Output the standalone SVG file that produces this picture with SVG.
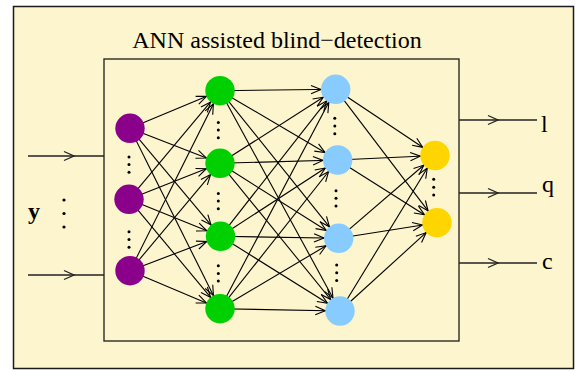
<svg xmlns="http://www.w3.org/2000/svg" width="578" height="371" viewBox="0 0 578 371">
  <style>
    .frame { fill: #FDF5CD; stroke: #1a1a1a; stroke-width: 1.5; }
    .box { fill: none; stroke: #2b2b22; stroke-width: 1.4; }
    .edge { stroke: #000; stroke-width: 1.1; fill: none; marker-end: url(#head); }
    .io { stroke: #222; stroke-width: 1.3; fill: none; marker-mid: url(#mid); }
    .txt { font-family: "Liberation Serif", "Times New Roman", serif; font-size: 24px; fill: #000; }
    .in { fill: #8B008B; }
    .h1 { fill: #00CF00; }
    .h2 { fill: #88CCFF; }
    .out { fill: #FFD500; }
    .dot { fill: #000; }
  </style>
  <defs>
    <!-- open arrowhead whose tip sits on the rim of the target circle (r = 14.7) -->
    <marker id="head" markerUnits="userSpaceOnUse" viewBox="-12 -6 30 12" refX="14.7" refY="0" markerWidth="30" markerHeight="12" orient="auto" overflow="visible">
      <path d="M-10,-4.2 L0,0 L-10,4.2" fill="none" stroke="#000" stroke-width="1.1"/>
    </marker>
    <!-- open arrowhead placed part way along a signal line -->
    <marker id="mid" markerUnits="userSpaceOnUse" viewBox="-12 -6 14 12" refX="0" refY="0" markerWidth="14" markerHeight="12" orient="auto" overflow="visible">
      <path d="M-10,-4.5 L0,0 L-10,4.5" fill="none" stroke="#222" stroke-width="1.3"/>
    </marker>
  </defs>

  <!-- outer panel -->
  <rect class="frame" x="13.5" y="6.5" width="560" height="362"/>

  <!-- estimator block -->
  <g id="block">
    <rect class="box" x="104" y="59" width="355" height="282"/>
    <text class="txt" x="277" y="48" text-anchor="middle">ANN assisted blind−detection</text>
  </g>

  <!-- input / output signals -->
  <g id="signals">
    <path class="io" d="M28,156 L74,156 L104,156"/>
    <path class="io" d="M28,275 L74,275 L104,275"/>
    <path class="io" d="M459,120 L498,120 L537,120"/>
    <path class="io" d="M459,193 L498,193 L537,193"/>
    <path class="io" d="M459,263 L498,263 L537,263"/>
    <text class="txt" x="28" y="219" font-weight="bold">y</text>
    <circle class="dot" cx="64" cy="200" r="1.6"/>
    <circle class="dot" cx="64" cy="213.5" r="1.6"/>
    <circle class="dot" cx="64" cy="227" r="1.6"/>
    <text class="txt" x="541" y="132">l</text>
    <text class="txt" x="542" y="192">q</text>
    <text class="txt" x="542" y="269">c</text>
  </g>

  <!-- weighted connections between layers -->
  <g id="connectors">
    <!-- input layer to first hidden layer -->
    <line class="edge" x1="130" y1="128.3" x2="220" y2="90.7"/>
    <line class="edge" x1="130" y1="128.3" x2="220" y2="163.3"/>
    <line class="edge" x1="130" y1="128.3" x2="220.5" y2="236.3"/>
    <line class="edge" x1="130" y1="128.3" x2="220" y2="308.7"/>
    <line class="edge" x1="129" y1="199.3" x2="220" y2="90.7"/>
    <line class="edge" x1="129" y1="199.3" x2="220" y2="163.3"/>
    <line class="edge" x1="129" y1="199.3" x2="220.5" y2="236.3"/>
    <line class="edge" x1="129" y1="199.3" x2="220" y2="308.7"/>
    <line class="edge" x1="130" y1="270.7" x2="220" y2="90.7"/>
    <line class="edge" x1="130" y1="270.7" x2="220" y2="163.3"/>
    <line class="edge" x1="130" y1="270.7" x2="220.5" y2="236.3"/>
    <line class="edge" x1="130" y1="270.7" x2="220" y2="308.7"/>
    <!-- first hidden layer to second hidden layer -->
    <line class="edge" x1="220" y1="90.7" x2="335.7" y2="89.3"/>
    <line class="edge" x1="220" y1="90.7" x2="337.7" y2="160"/>
    <line class="edge" x1="220" y1="90.7" x2="338.7" y2="238.3"/>
    <line class="edge" x1="220" y1="90.7" x2="340" y2="311"/>
    <line class="edge" x1="220" y1="163.3" x2="335.7" y2="89.3"/>
    <line class="edge" x1="220" y1="163.3" x2="337.7" y2="160"/>
    <line class="edge" x1="220" y1="163.3" x2="338.7" y2="238.3"/>
    <line class="edge" x1="220" y1="163.3" x2="340" y2="311"/>
    <line class="edge" x1="220.5" y1="236.3" x2="335.7" y2="89.3"/>
    <line class="edge" x1="220.5" y1="236.3" x2="337.7" y2="160"/>
    <line class="edge" x1="220.5" y1="236.3" x2="338.7" y2="238.3"/>
    <line class="edge" x1="220.5" y1="236.3" x2="340" y2="311"/>
    <line class="edge" x1="220" y1="308.7" x2="335.7" y2="89.3"/>
    <line class="edge" x1="220" y1="308.7" x2="337.7" y2="160"/>
    <line class="edge" x1="220" y1="308.7" x2="338.7" y2="238.3"/>
    <line class="edge" x1="220" y1="308.7" x2="340" y2="311"/>
    <!-- second hidden layer to output layer -->
    <line class="edge" x1="335.7" y1="89.3" x2="435" y2="155.5"/>
    <line class="edge" x1="335.7" y1="89.3" x2="437" y2="222.7"/>
    <line class="edge" x1="337.7" y1="160" x2="435" y2="155.5"/>
    <line class="edge" x1="337.7" y1="160" x2="437" y2="222.7"/>
    <line class="edge" x1="338.7" y1="238.3" x2="435" y2="155.5"/>
    <line class="edge" x1="338.7" y1="238.3" x2="437" y2="222.7"/>
    <line class="edge" x1="340" y1="311" x2="435" y2="155.5"/>
    <line class="edge" x1="340" y1="311" x2="437" y2="222.7"/>
  </g>

  <!-- input layer -->
  <g id="input-1"><circle class="in" cx="130" cy="128.3" r="14.7"/></g>
  <g id="input-2"><circle class="in" cx="129" cy="199.3" r="14.7"/></g>
  <g id="input-3"><circle class="in" cx="130" cy="270.7" r="14.7"/></g>
  <g id="input-dots">
    <circle class="dot" cx="129" cy="157" r="1.5"/>
    <circle class="dot" cx="129" cy="164.6" r="1.5"/>
    <circle class="dot" cx="129" cy="172.3" r="1.5"/>
    <circle class="dot" cx="129" cy="231.8" r="1.5"/>
    <circle class="dot" cx="129" cy="239.5" r="1.5"/>
    <circle class="dot" cx="129" cy="247.2" r="1.5"/>
  </g>

  <!-- first hidden layer -->
  <g id="hidden1-1"><circle class="h1" cx="220" cy="90.7" r="14.7"/></g>
  <g id="hidden1-2"><circle class="h1" cx="220" cy="163.3" r="14.7"/></g>
  <g id="hidden1-3"><circle class="h1" cx="220.5" cy="236.3" r="14.7"/></g>
  <g id="hidden1-4"><circle class="h1" cx="220" cy="308.7" r="14.7"/></g>
  <g id="hidden1-dots">
    <circle class="dot" cx="218.3" cy="122.5" r="1.5"/>
    <circle class="dot" cx="218.3" cy="130.1" r="1.5"/>
    <circle class="dot" cx="218.3" cy="137.7" r="1.5"/>
    <circle class="dot" cx="218.3" cy="193.4" r="1.5"/>
    <circle class="dot" cx="218.3" cy="201.1" r="1.5"/>
    <circle class="dot" cx="218.3" cy="208.8" r="1.5"/>
    <circle class="dot" cx="218.3" cy="265.7" r="1.5"/>
    <circle class="dot" cx="218.3" cy="273.4" r="1.5"/>
    <circle class="dot" cx="218.3" cy="281.1" r="1.5"/>
  </g>

  <!-- second hidden layer -->
  <g id="hidden2-1"><circle class="h2" cx="335.7" cy="89.3" r="14.7"/></g>
  <g id="hidden2-2"><circle class="h2" cx="337.7" cy="160" r="14.7"/></g>
  <g id="hidden2-3"><circle class="h2" cx="338.7" cy="238.3" r="14.7"/></g>
  <g id="hidden2-4"><circle class="h2" cx="340" cy="311" r="14.7"/></g>
  <g id="hidden2-dots">
    <circle class="dot" cx="334.8" cy="118.3" r="1.5"/>
    <circle class="dot" cx="334.8" cy="126" r="1.5"/>
    <circle class="dot" cx="334.8" cy="133.7" r="1.5"/>
    <circle class="dot" cx="336" cy="190.7" r="1.5"/>
    <circle class="dot" cx="336" cy="198.3" r="1.5"/>
    <circle class="dot" cx="336" cy="206" r="1.5"/>
    <circle class="dot" cx="336.7" cy="265" r="1.5"/>
    <circle class="dot" cx="336.7" cy="272.7" r="1.5"/>
    <circle class="dot" cx="336.7" cy="280.5" r="1.5"/>
  </g>

  <!-- output layer -->
  <g id="output-1"><circle class="out" cx="435" cy="155.5" r="14.7"/></g>
  <g id="output-2"><circle class="out" cx="437" cy="222.7" r="14.7"/></g>
  <g id="output-dots">
    <circle class="dot" cx="433.7" cy="179.3" r="1.5"/>
    <circle class="dot" cx="433.7" cy="187.2" r="1.5"/>
    <circle class="dot" cx="433.7" cy="195" r="1.5"/>
  </g>
</svg>
